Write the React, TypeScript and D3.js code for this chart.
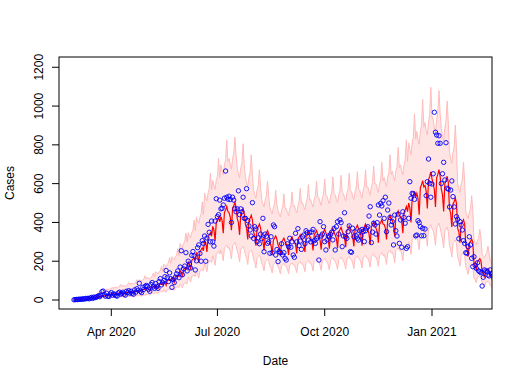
import React from 'react';
import * as d3 from 'd3';

// daily series, first day = Sat 29 Feb 2020
const DAY = 86400000;
const firstDay = Date.UTC(2020, 1, 29);

const observed = [
  1, 2, 3, 2, 4, 3, 5,
  4, 6, 5, 8, 7, 9, 6,
  10, 13, 8, 15, 12, 14, 18,
  22, 17, 25, 43, 46, 28, 20,
  35, 20, 18, 30, 38, 25, 32,
  28, 22, 20, 36, 40, 30, 34,
  40, 30, 25, 45, 38, 48, 35,
  45, 35, 30, 52, 40, 58, 50,
  86, 45, 38, 65, 55, 70, 75,
  70, 55, 45, 80, 90, 68, 60,
  85, 70, 60, 95, 110, 78, 90,
  100, 120, 152, 115, 95, 140, 110,
  65, 105, 90, 118, 135, 150, 115,
  170, 254, 130, 160, 175, 244, 150,
  200, 185, 165, 230, 250, 228, 155,
  202, 270, 284, 240, 200, 306, 292,
  330, 200, 320, 390, 349, 300, 407,
  300, 278, 407, 522, 430, 440, 515,
  470, 473, 490, 525, 665, 530, 520,
  535, 518, 400, 530, 515, 470, 455,
  470, 563, 440, 470, 455, 530, 421,
  421, 574, 409, 382, 361, 330, 502,
  318, 378, 366, 300, 320, 290, 340,
  316, 421, 249, 340, 328, 292, 300,
  241, 326, 244, 387, 378, 232, 260,
  198, 250, 244, 290, 232, 244, 215,
  206, 290, 275, 318, 272, 300, 232,
  220, 344, 300, 368, 280, 304, 261,
  326, 335, 290, 357, 347, 309, 347,
  300, 351, 364, 306, 292, 316, 326,
  206, 404, 330, 340, 378, 301, 258,
  310, 330, 326, 338, 350, 310, 369,
  258, 378, 404, 340, 413, 399, 275,
  330, 450, 326, 318, 352, 382, 249,
  246, 370, 326, 352, 330, 318, 309,
  357, 330, 364, 352, 301, 357, 370,
  378, 433, 481, 296, 350, 396, 387,
  340, 399, 490, 438, 498, 485, 512,
  421, 530, 352, 464, 500, 426, 387,
  404, 284, 438, 357, 330, 443, 292,
  413, 272, 455, 426, 396, 266, 275,
  421, 610, 525, 550, 547, 519, 331,
  335, 409, 399, 378, 331, 370, 331,
  366, 538, 610, 727, 601, 530, 598,
  651, 968, 865, 851, 808, 847, 808,
  601, 651, 710, 619, 811, 576, 572,
  480, 567, 614, 533, 480, 392, 430,
  416, 316, 404, 387, 361, 306, 292,
  244, 241, 275, 326, 284, 215, 172,
  223, 180, 163, 192, 150, 146, 141,
  72, 117, 155, 150, 146, 129, 124,
  155, 134, 140,
];

const fitted = [
  3, 3, 2, 3, 3, 3, 3,
  6, 6, 5, 6, 6, 7, 6,
  12, 11, 10, 13, 13, 13, 13,
  20, 19, 16, 21, 22, 22, 21,
  27, 26, 22, 28, 29, 30, 29,
  32, 30, 26, 34, 35, 36, 34,
  36, 34, 29, 38, 39, 40, 38,
  42, 40, 34, 44, 45, 47, 45,
  50, 48, 40, 53, 54, 56, 53,
  60, 57, 48, 63, 65, 67, 64,
  75, 71, 60, 79, 81, 84, 80,
  95, 90, 76, 100, 103, 106, 101,
  115, 109, 92, 121, 124, 129, 122,
  150, 143, 120, 158, 162, 168, 159,
  195, 185, 156, 205, 211, 218, 207,
  240, 228, 192, 252, 259, 269, 254,
  310, 295, 248, 326, 335, 347, 329,
  380, 361, 304, 399, 410, 426, 403,
  430, 409, 344, 452, 464, 482, 456,
  450, 428, 360, 473, 486, 504, 477,
  420, 399, 336, 441, 454, 470, 445,
  390, 371, 312, 410, 421, 437, 413,
  350, 333, 280, 368, 378, 392, 371,
  320, 304, 256, 336, 346, 358, 339,
  295, 280, 236, 310, 319, 330, 313,
  285, 271, 228, 299, 308, 319, 302,
  290, 276, 232, 305, 313, 325, 307,
  300, 285, 240, 315, 324, 336, 318,
  310, 295, 248, 326, 335, 347, 329,
  320, 304, 256, 336, 346, 358, 339,
  325, 309, 260, 341, 351, 364, 345,
  330, 314, 264, 347, 356, 370, 350,
  335, 318, 268, 352, 362, 375, 355,
  340, 323, 272, 357, 367, 381, 360,
  345, 328, 276, 362, 373, 386, 366,
  350, 333, 280, 368, 378, 392, 371,
  360, 342, 288, 378, 389, 403, 382,
  370, 352, 296, 389, 400, 414, 392,
  390, 371, 312, 410, 421, 437, 413,
  410, 390, 328, 431, 443, 459, 435,
  430, 409, 344, 452, 464, 482, 456,
  500, 475, 400, 525, 540, 560, 530,
  550, 523, 440, 578, 594, 616, 583,
  590, 561, 472, 620, 637, 661, 625,
  600, 570, 480, 630, 648, 672, 636,
  570, 542, 456, 599, 616, 638, 604,
  470, 447, 376, 494, 508, 526, 498,
  370, 352, 296, 389, 400, 414, 392,
  280, 266, 224, 294, 302, 314, 297,
  190, 181, 152, 200, 205, 213, 201,
  145, 138, 116, 152, 157, 162, 154,
  125, 119, 100,
];

const upper = [
  6, 6, 6, 6, 7, 8, 7,
  13, 12, 12, 13, 13, 15, 13,
  25, 24, 23, 25, 26, 30, 26,
  42, 40, 39, 42, 44, 50, 43,
  57, 54, 53, 57, 59, 67, 58,
  67, 64, 62, 67, 70, 80, 69,
  76, 73, 70, 76, 79, 90, 78,
  88, 85, 82, 88, 92, 105, 91,
  105, 101, 98, 105, 109, 125, 108,
  117, 112, 108, 117, 121, 138, 120,
  146, 140, 135, 146, 151, 173, 149,
  184, 177, 171, 184, 192, 219, 189,
  223, 214, 207, 223, 232, 265, 229,
  291, 279, 270, 291, 303, 345, 299,
  347, 332, 322, 347, 361, 411, 357,
  427, 408, 396, 427, 444, 506, 439,
  552, 527, 512, 552, 574, 654, 567,
  616, 589, 570, 616, 638, 730, 631,
  697, 667, 645, 697, 722, 826, 714,
  729, 698, 675, 729, 756, 840, 747,
  680, 651, 630, 680, 706, 806, 697,
  632, 605, 585, 632, 655, 749, 647,
  567, 543, 525, 567, 588, 672, 581,
  518, 496, 480, 518, 538, 614, 531,
  478, 457, 443, 478, 496, 566, 490,
  462, 442, 428, 462, 479, 547, 473,
  470, 450, 435, 470, 487, 557, 481,
  486, 465, 450, 486, 504, 576, 498,
  502, 481, 465, 502, 521, 595, 515,
  518, 496, 480, 518, 538, 614, 531,
  527, 504, 488, 527, 546, 624, 540,
  535, 512, 495, 535, 554, 634, 548,
  543, 519, 503, 543, 563, 643, 556,
  551, 527, 510, 551, 571, 653, 564,
  559, 535, 518, 559, 580, 662, 573,
  567, 543, 525, 567, 588, 672, 581,
  583, 558, 540, 583, 605, 691, 598,
  599, 574, 555, 599, 622, 710, 614,
  632, 605, 585, 632, 655, 749, 647,
  664, 636, 615, 664, 689, 787, 681,
  697, 667, 645, 697, 722, 826, 714,
  810, 775, 750, 810, 840, 960, 830,
  869, 825, 803, 869, 902, 1034, 891,
  915, 873, 850, 915, 956, 1097, 944,
  930, 888, 864, 930, 972, 1080, 960,
  884, 844, 821, 884, 923, 1026, 912,
  761, 729, 705, 761, 790, 902, 780,
  599, 574, 555, 599, 622, 710, 614,
  454, 434, 420, 454, 470, 538, 465,
  308, 295, 285, 308, 319, 365, 315,
  235, 225, 218, 235, 244, 278, 241,
  203, 194, 188,
];

const lower = [
  1, 1, 1, 1, 1, 1, 1,
  3, 3, 2, 3, 3, 3, 3,
  6, 5, 5, 6, 6, 6, 6,
  10, 9, 8, 10, 10, 11, 10,
  13, 12, 10, 13, 14, 14, 13,
  15, 14, 12, 16, 16, 17, 16,
  17, 16, 14, 18, 18, 19, 18,
  20, 18, 16, 21, 22, 22, 21,
  24, 22, 19, 25, 26, 26, 25,
  32, 30, 25, 33, 35, 36, 33,
  41, 37, 32, 42, 43, 45, 42,
  51, 47, 40, 53, 55, 56, 53,
  62, 57, 49, 64, 66, 68, 64,
  81, 74, 63, 84, 86, 89, 84,
  117, 107, 92, 121, 125, 129, 121,
  144, 132, 113, 149, 154, 158, 149,
  186, 171, 146, 192, 198, 205, 192,
  228, 209, 179, 236, 243, 251, 236,
  258, 237, 202, 267, 275, 284, 267,
  270, 248, 212, 279, 288, 297, 279,
  252, 231, 197, 260, 269, 277, 260,
  234, 215, 183, 242, 250, 257, 242,
  210, 193, 165, 217, 224, 231, 217,
  192, 176, 150, 198, 205, 211, 198,
  177, 162, 139, 183, 189, 195, 183,
  171, 157, 134, 177, 182, 188, 177,
  174, 160, 136, 180, 186, 191, 180,
  180, 165, 141, 186, 192, 198, 186,
  186, 171, 146, 192, 198, 205, 192,
  192, 176, 150, 198, 205, 211, 198,
  195, 179, 153, 202, 208, 215, 202,
  198, 182, 155, 205, 211, 218, 205,
  201, 184, 157, 208, 214, 221, 208,
  204, 187, 160, 211, 218, 224, 211,
  207, 190, 162, 214, 221, 228, 214,
  210, 193, 165, 217, 224, 231, 217,
  216, 198, 169, 223, 230, 238, 223,
  222, 204, 174, 229, 237, 244, 229,
  234, 215, 183, 242, 250, 257, 242,
  246, 226, 193, 254, 262, 271, 254,
  258, 237, 202, 267, 275, 284, 267,
  300, 275, 235, 310, 320, 330, 310,
  330, 303, 259, 341, 352, 363, 341,
  354, 325, 277, 366, 378, 389, 366,
  360, 330, 282, 372, 384, 396, 372,
  342, 314, 268, 353, 365, 376, 353,
  282, 259, 221, 291, 301, 310, 291,
  222, 204, 174, 229, 237, 244, 229,
  168, 154, 132, 174, 179, 185, 174,
  114, 105, 89, 118, 122, 125, 118,
  87, 80, 68, 90, 93, 96, 90,
  75, 69, 59,
];

const xTickDates = [Date.UTC(2020, 3, 1), Date.UTC(2020, 6, 1), Date.UTC(2020, 9, 1), Date.UTC(2021, 0, 1)];
const xTickLabels = ['Apr 2020', 'Jul 2020', 'Oct 2020', 'Jan 2021'];
const yTicks = [0, 200, 400, 600, 800, 1000, 1200];

const W = 522;
const H = 383;
const m = { left: 59, right: 492, top: 57, bottom: 309 };
const font = 'Liberation Sans, Arial, Helvetica, sans-serif';

export default function App() {
  const apr1 = Date.UTC(2020, 3, 1);
  const x = d3.scaleUtc()
    .domain([new Date(apr1 - 44.85 * DAY), new Date(apr1 + 326.45 * DAY)])
    .range([m.left, m.right]);
  const y = d3.scaleLinear().domain([-46.4, 1253]).range([m.bottom, m.top]);

  const rows = fitted.map((f, i) => ({
    date: new Date(firstDay + i * DAY),
    obs: observed[i],
    fit: f,
    hi: upper[i],
    lo: lower[i],
  }));

  const band = d3.area<any>().x(d => x(d.date)).y0(d => y(d.lo)).y1(d => y(d.hi))(rows) || '';
  const hiLine = d3.line<any>().x(d => x(d.date)).y(d => y(d.hi))(rows) || '';
  const loLine = d3.line<any>().x(d => x(d.date)).y(d => y(d.lo))(rows) || '';
  const fitLine = d3.line<any>().x(d => x(d.date)).y(d => y(d.fit))(rows) || '';

  const midX = (m.left + m.right) / 2;
  const midY = (m.top + m.bottom) / 2;

  return (
    <svg width={W} height={H} style={{ position: 'absolute', left: 0, top: 0, background: '#fff' }}
      fontFamily={font} fontSize={12}>
      <defs>
        <clipPath id="plotclip">
          <rect x={m.left} y={m.top} width={m.right - m.left} height={m.bottom - m.top} />
        </clipPath>
      </defs>
      <g clipPath="url(#plotclip)">
        <path d={band} fill="#ffe4e4" stroke="none" />
        <path d={hiLine} fill="none" stroke="#ffbcbc" strokeWidth={1} />
        <path d={loLine} fill="none" stroke="#ffbcbc" strokeWidth={1} />
        <path d={fitLine} fill="none" stroke="#ff0000" strokeWidth={1.2} />
        {rows.map((d, i) => (
          <circle key={i} cx={x(d.date)} cy={y(d.obs)} r={2.2} fill="none" stroke="#0000ff" strokeWidth={0.9} />
        ))}
      </g>
      <rect x={m.left} y={m.top} width={m.right - m.left} height={m.bottom - m.top} fill="none" stroke="#000" strokeWidth={1} />
      {xTickDates.map((t, i) => (
        <g key={i}>
          <line x1={x(new Date(t))} x2={x(new Date(t))} y1={m.bottom} y2={m.bottom + 7} stroke="#000" />
          <text x={x(new Date(t))} y={335.5} textAnchor="middle">{xTickLabels[i]}</text>
        </g>
      ))}
      {yTicks.map(t => (
        <g key={t}>
          <line x1={m.left - 7} x2={m.left} y1={y(t)} y2={y(t)} stroke="#000" />
          <text transform={`translate(42.7,${y(t)}) rotate(-90)`} textAnchor="middle">{t}</text>
        </g>
      ))}
      <text x={midX} y={364.5} textAnchor="middle">Date</text>
      <text transform={`translate(14.3,${midY}) rotate(-90)`} textAnchor="middle">Cases</text>
    </svg>
  );
}
